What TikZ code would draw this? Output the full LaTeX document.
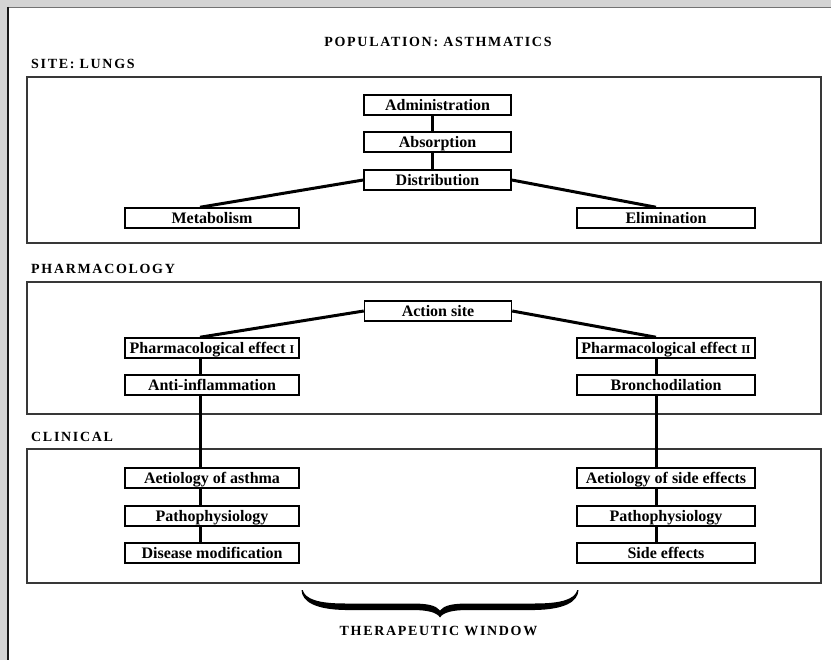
\documentclass[tikz,border=0pt]{standalone}
\usepackage{fontspec}
\setmainfont{Liberation Serif}
\newfontfamily\capsfont[LetterSpace=12]{Liberation Serif}
\newcommand{\smallcapI}[1]{{\fontsize{12}{12}\selectfont #1}}
\begin{document}
\begin{tikzpicture}[x=1pt,y=-1pt,
  box/.style={draw, line width=1.5pt, minimum height=20pt, inner sep=0pt,
    text height=13pt, text depth=2.4pt, font=\fontsize{16}{18}\selectfont\bfseries},
  topbox/.style={box, minimum width=147pt},
  lbox/.style={box, minimum width=174pt},
  rbox/.style={box, minimum width=178pt},
  link/.style={line width=3pt},
  frame/.style={draw=black!78, line width=1.6pt},
  head/.style={font=\fontsize{14}{16}\selectfont\capsfont\bfseries, inner sep=0pt}]
\useasboundingbox (0,0) rectangle (831,660);
% page
\fill[black!17] (0,0) rectangle (831,660);
\fill[white] (7,7) rectangle (831,660);
\draw[black!55, line width=1.2pt] (7,7.5) -- (831,7.5);
\draw[black!90, line width=1.6pt] (7.8,7) -- (7.8,660);
% column coordinates
\coordinate (Lx) at (200,0);
\coordinate (Cx) at (432,0);
\coordinate (Rx) at (656,0);
% headings
\node[head] (title) at (438,42) {POPULATION: ASTHMATICS};
\node[head, anchor=west] (hsite) at (31,64) {SITE: LUNGS};
\node[head, anchor=west] (hpharm) at (31,269) {PHARMACOLOGY};
\node[head, anchor=west] (hclin) at (31,437) {CLINICAL};
\node[head] (tw) at (438.5,631) {THERAPEUTIC WINDOW};
% frames
\draw[frame] (27,77) rectangle (821,243);
\draw[frame] (27,282) rectangle (821,414);
\draw[frame] (27,449) rectangle (821,583);
% site
\node[topbox] (adm) at (437.5,105) {Administration};
\node[topbox] (abs) at (437.5,142) {Absorption};
\node[topbox] (dist) at (437.5,180) {Distribution};
\node[lbox] (met) at (212,218) {Metabolism};
\node[rbox] (elim) at (666,218) {Elimination};
% pharmacology
\node[topbox] (as) at (438,311) {Action site};
\node[lbox] (pe1) at (212,348) {Pharmacological effect \smallcapI{I}};
\node[rbox] (pe2) at (666,348) {Pharmacological effect \smallcapI{II}};
\node[lbox] (ai) at (212,385) {Anti-inflammation};
\node[rbox] (bd) at (666,385) {Bronchodilation};
% clinical
\node[lbox] (aa) at (212,478) {Aetiology of asthma};
\node[lbox] (pp1) at (212,516) {Pathophysiology};
\node[lbox] (dm) at (212,553) {Disease modification};
\node[rbox] (ase) at (666,478) {Aetiology of side effects};
\node[rbox] (pp2) at (666,516) {Pathophysiology};
\node[rbox] (se) at (666,553) {Side effects};
% connectors
\draw[link] (adm.south -| Cx) -- (abs.north -| Cx);
\draw[link] (abs.south -| Cx) -- (dist.north -| Cx);
\draw[link] (dist.west) -- (met.north -| Lx);
\draw[link] (dist.east) -- (elim.north -| Rx);
\draw[link] (as.west) -- (pe1.north -| Lx);
\draw[link] (as.east) -- (pe2.north -| Rx);
\draw[link] (pe1.south -| Lx) -- (ai.north -| Lx);
\draw[link] (pe2.south -| Rx) -- (bd.north -| Rx);
\draw[link] (ai.south -| Lx) -- (aa.north -| Lx);
\draw[link] (bd.south -| Rx) -- (ase.north -| Rx);
\draw[link] (aa.south -| Lx) -- (pp1.north -| Lx);
\draw[link] (pp1.south -| Lx) -- (dm.north -| Lx);
\draw[link] (ase.south -| Rx) -- (pp2.north -| Rx);
\draw[link] (pp2.south -| Rx) -- (se.north -| Rx);
% brace
\fill (301.5,590) .. controls (302,602) and (316,609.5) .. (345,610)
  -- (412,610) .. controls (428,610) and (437,612.5) .. (440,617.5)
  .. controls (443,612.5) and (452,610) .. (468,610)
  -- (535,610) .. controls (564,609.5) and (578,602) .. (578.5,590)
  -- (577.3,590) .. controls (575,599) and (562,603.5) .. (535,603.5)
  -- (468,603.5) .. controls (452,603.5) and (444,605.5) .. (440,610.5)
  .. controls (436,605.5) and (428,603.5) .. (412,603.5)
  -- (345,603.5) .. controls (318,603.5) and (305,599) .. (302.7,590) -- cycle;
\end{tikzpicture}
\end{document}
